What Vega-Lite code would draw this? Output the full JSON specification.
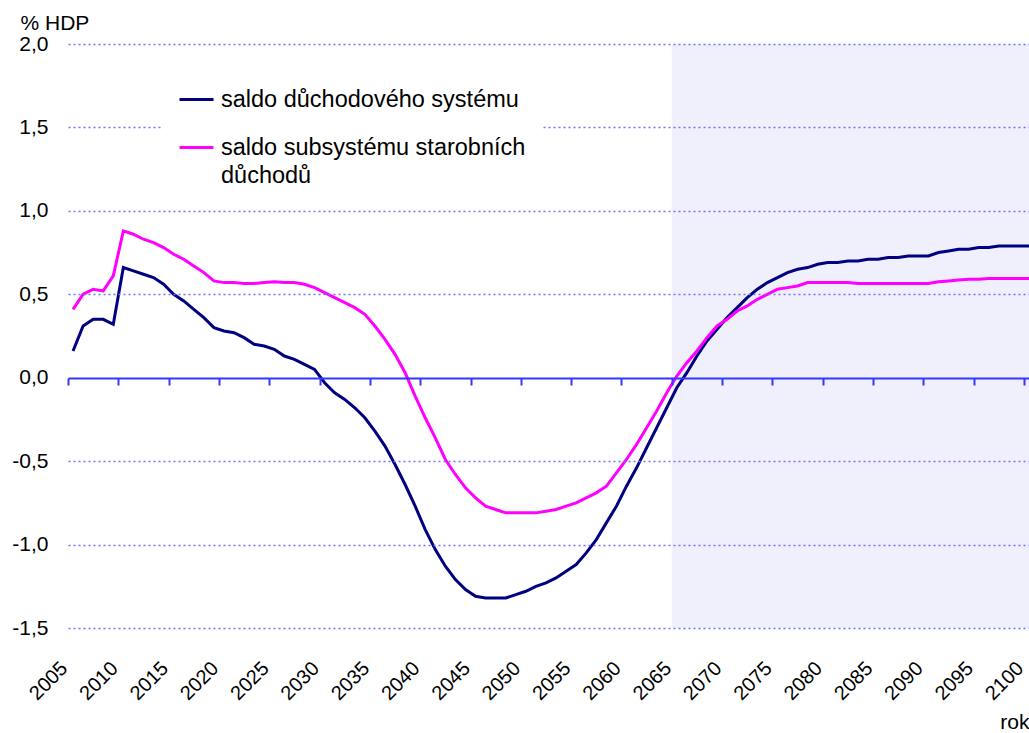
{
  "$schema": "https://vega.github.io/schema/vega-lite/v6.json",
  "width": 961,
  "height": 584,
  "autosize": {"type": "none"},
  "padding": {"left": 68, "top": 44, "right": 0, "bottom": 105},
  "background": "white",
  "config": {
    "font": "Liberation Sans",
    "view": {"stroke": null}
  },
  "datasets": {
    "shade": [{"from": 2064.5, "to": 2100}],
    "series": [
      {"year": 2005, "s": "saldo důchodového systému", "v": 0.16},
      {"year": 2006, "s": "saldo důchodového systému", "v": 0.31},
      {"year": 2007, "s": "saldo důchodového systému", "v": 0.35},
      {"year": 2008, "s": "saldo důchodového systému", "v": 0.35},
      {"year": 2009, "s": "saldo důchodového systému", "v": 0.32},
      {"year": 2010, "s": "saldo důchodového systému", "v": 0.66},
      {"year": 2011, "s": "saldo důchodového systému", "v": 0.64},
      {"year": 2012, "s": "saldo důchodového systému", "v": 0.62},
      {"year": 2013, "s": "saldo důchodového systému", "v": 0.60},
      {"year": 2014, "s": "saldo důchodového systému", "v": 0.56},
      {"year": 2015, "s": "saldo důchodového systému", "v": 0.50},
      {"year": 2016, "s": "saldo důchodového systému", "v": 0.46},
      {"year": 2017, "s": "saldo důchodového systému", "v": 0.41},
      {"year": 2018, "s": "saldo důchodového systému", "v": 0.36},
      {"year": 2019, "s": "saldo důchodového systému", "v": 0.30},
      {"year": 2020, "s": "saldo důchodového systému", "v": 0.28},
      {"year": 2021, "s": "saldo důchodového systému", "v": 0.27},
      {"year": 2022, "s": "saldo důchodového systému", "v": 0.24},
      {"year": 2023, "s": "saldo důchodového systému", "v": 0.20},
      {"year": 2024, "s": "saldo důchodového systému", "v": 0.19},
      {"year": 2025, "s": "saldo důchodového systému", "v": 0.17},
      {"year": 2026, "s": "saldo důchodového systému", "v": 0.13},
      {"year": 2027, "s": "saldo důchodového systému", "v": 0.11},
      {"year": 2028, "s": "saldo důchodového systému", "v": 0.08},
      {"year": 2029, "s": "saldo důchodového systému", "v": 0.05},
      {"year": 2030, "s": "saldo důchodového systému", "v": -0.03},
      {"year": 2031, "s": "saldo důchodového systému", "v": -0.09},
      {"year": 2032, "s": "saldo důchodového systému", "v": -0.13},
      {"year": 2033, "s": "saldo důchodového systému", "v": -0.18},
      {"year": 2034, "s": "saldo důchodového systému", "v": -0.24},
      {"year": 2035, "s": "saldo důchodového systému", "v": -0.32},
      {"year": 2036, "s": "saldo důchodového systému", "v": -0.41},
      {"year": 2037, "s": "saldo důchodového systému", "v": -0.52},
      {"year": 2038, "s": "saldo důchodového systému", "v": -0.64},
      {"year": 2039, "s": "saldo důchodového systému", "v": -0.77},
      {"year": 2040, "s": "saldo důchodového systému", "v": -0.91},
      {"year": 2041, "s": "saldo důchodového systému", "v": -1.03},
      {"year": 2042, "s": "saldo důchodového systému", "v": -1.13},
      {"year": 2043, "s": "saldo důchodového systému", "v": -1.21},
      {"year": 2044, "s": "saldo důchodového systému", "v": -1.27},
      {"year": 2045, "s": "saldo důchodového systému", "v": -1.31},
      {"year": 2046, "s": "saldo důchodového systému", "v": -1.32},
      {"year": 2047, "s": "saldo důchodového systému", "v": -1.32},
      {"year": 2048, "s": "saldo důchodového systému", "v": -1.32},
      {"year": 2049, "s": "saldo důchodového systému", "v": -1.30},
      {"year": 2050, "s": "saldo důchodového systému", "v": -1.28},
      {"year": 2051, "s": "saldo důchodového systému", "v": -1.25},
      {"year": 2052, "s": "saldo důchodového systému", "v": -1.23},
      {"year": 2053, "s": "saldo důchodového systému", "v": -1.20},
      {"year": 2054, "s": "saldo důchodového systému", "v": -1.16},
      {"year": 2055, "s": "saldo důchodového systému", "v": -1.12},
      {"year": 2056, "s": "saldo důchodového systému", "v": -1.05},
      {"year": 2057, "s": "saldo důchodového systému", "v": -0.97},
      {"year": 2058, "s": "saldo důchodového systému", "v": -0.87},
      {"year": 2059, "s": "saldo důchodového systému", "v": -0.77},
      {"year": 2060, "s": "saldo důchodového systému", "v": -0.65},
      {"year": 2061, "s": "saldo důchodového systému", "v": -0.54},
      {"year": 2062, "s": "saldo důchodového systému", "v": -0.42},
      {"year": 2063, "s": "saldo důchodového systému", "v": -0.30},
      {"year": 2064, "s": "saldo důchodového systému", "v": -0.18},
      {"year": 2065, "s": "saldo důchodového systému", "v": -0.06},
      {"year": 2066, "s": "saldo důchodového systému", "v": 0.03},
      {"year": 2067, "s": "saldo důchodového systému", "v": 0.13},
      {"year": 2068, "s": "saldo důchodového systému", "v": 0.22},
      {"year": 2069, "s": "saldo důchodového systému", "v": 0.29},
      {"year": 2070, "s": "saldo důchodového systému", "v": 0.36},
      {"year": 2071, "s": "saldo důchodového systému", "v": 0.42},
      {"year": 2072, "s": "saldo důchodového systému", "v": 0.48},
      {"year": 2073, "s": "saldo důchodového systému", "v": 0.53},
      {"year": 2074, "s": "saldo důchodového systému", "v": 0.57},
      {"year": 2075, "s": "saldo důchodového systému", "v": 0.60},
      {"year": 2076, "s": "saldo důchodového systému", "v": 0.63},
      {"year": 2077, "s": "saldo důchodového systému", "v": 0.65},
      {"year": 2078, "s": "saldo důchodového systému", "v": 0.66},
      {"year": 2079, "s": "saldo důchodového systému", "v": 0.68},
      {"year": 2080, "s": "saldo důchodového systému", "v": 0.69},
      {"year": 2081, "s": "saldo důchodového systému", "v": 0.69},
      {"year": 2082, "s": "saldo důchodového systému", "v": 0.70},
      {"year": 2083, "s": "saldo důchodového systému", "v": 0.70},
      {"year": 2084, "s": "saldo důchodového systému", "v": 0.71},
      {"year": 2085, "s": "saldo důchodového systému", "v": 0.71},
      {"year": 2086, "s": "saldo důchodového systému", "v": 0.72},
      {"year": 2087, "s": "saldo důchodového systému", "v": 0.72},
      {"year": 2088, "s": "saldo důchodového systému", "v": 0.73},
      {"year": 2089, "s": "saldo důchodového systému", "v": 0.73},
      {"year": 2090, "s": "saldo důchodového systému", "v": 0.73},
      {"year": 2091, "s": "saldo důchodového systému", "v": 0.75},
      {"year": 2092, "s": "saldo důchodového systému", "v": 0.76},
      {"year": 2093, "s": "saldo důchodového systému", "v": 0.77},
      {"year": 2094, "s": "saldo důchodového systému", "v": 0.77},
      {"year": 2095, "s": "saldo důchodového systému", "v": 0.78},
      {"year": 2096, "s": "saldo důchodového systému", "v": 0.78},
      {"year": 2097, "s": "saldo důchodového systému", "v": 0.79},
      {"year": 2098, "s": "saldo důchodového systému", "v": 0.79},
      {"year": 2099, "s": "saldo důchodového systému", "v": 0.79},
      {"year": 2100, "s": "saldo důchodového systému", "v": 0.79},
      {"year": 2005, "s": "saldo subsystému starobních důchodů", "v": 0.41},
      {"year": 2006, "s": "saldo subsystému starobních důchodů", "v": 0.50},
      {"year": 2007, "s": "saldo subsystému starobních důchodů", "v": 0.53},
      {"year": 2008, "s": "saldo subsystému starobních důchodů", "v": 0.52},
      {"year": 2009, "s": "saldo subsystému starobních důchodů", "v": 0.61},
      {"year": 2010, "s": "saldo subsystému starobních důchodů", "v": 0.88},
      {"year": 2011, "s": "saldo subsystému starobních důchodů", "v": 0.86},
      {"year": 2012, "s": "saldo subsystému starobních důchodů", "v": 0.83},
      {"year": 2013, "s": "saldo subsystému starobních důchodů", "v": 0.81},
      {"year": 2014, "s": "saldo subsystému starobních důchodů", "v": 0.78},
      {"year": 2015, "s": "saldo subsystému starobních důchodů", "v": 0.74},
      {"year": 2016, "s": "saldo subsystému starobních důchodů", "v": 0.71},
      {"year": 2017, "s": "saldo subsystému starobních důchodů", "v": 0.67},
      {"year": 2018, "s": "saldo subsystému starobních důchodů", "v": 0.63},
      {"year": 2019, "s": "saldo subsystému starobních důchodů", "v": 0.58},
      {"year": 2020, "s": "saldo subsystému starobních důchodů", "v": 0.57},
      {"year": 2021, "s": "saldo subsystému starobních důchodů", "v": 0.57},
      {"year": 2022, "s": "saldo subsystému starobních důchodů", "v": 0.565},
      {"year": 2023, "s": "saldo subsystému starobních důchodů", "v": 0.565},
      {"year": 2024, "s": "saldo subsystému starobních důchodů", "v": 0.57},
      {"year": 2025, "s": "saldo subsystému starobních důchodů", "v": 0.575},
      {"year": 2026, "s": "saldo subsystému starobních důchodů", "v": 0.57},
      {"year": 2027, "s": "saldo subsystému starobních důchodů", "v": 0.57},
      {"year": 2028, "s": "saldo subsystému starobních důchodů", "v": 0.56},
      {"year": 2029, "s": "saldo subsystému starobních důchodů", "v": 0.54},
      {"year": 2030, "s": "saldo subsystému starobních důchodů", "v": 0.51},
      {"year": 2031, "s": "saldo subsystému starobních důchodů", "v": 0.48},
      {"year": 2032, "s": "saldo subsystému starobních důchodů", "v": 0.45},
      {"year": 2033, "s": "saldo subsystému starobních důchodů", "v": 0.42},
      {"year": 2034, "s": "saldo subsystému starobních důchodů", "v": 0.38},
      {"year": 2035, "s": "saldo subsystému starobních důchodů", "v": 0.31},
      {"year": 2036, "s": "saldo subsystému starobních důchodů", "v": 0.23},
      {"year": 2037, "s": "saldo subsystému starobních důchodů", "v": 0.14},
      {"year": 2038, "s": "saldo subsystému starobních důchodů", "v": 0.03},
      {"year": 2039, "s": "saldo subsystému starobních důchodů", "v": -0.11},
      {"year": 2040, "s": "saldo subsystému starobních důchodů", "v": -0.24},
      {"year": 2041, "s": "saldo subsystému starobních důchodů", "v": -0.36},
      {"year": 2042, "s": "saldo subsystému starobních důchodů", "v": -0.49},
      {"year": 2043, "s": "saldo subsystému starobních důchodů", "v": -0.58},
      {"year": 2044, "s": "saldo subsystému starobních důchodů", "v": -0.66},
      {"year": 2045, "s": "saldo subsystému starobních důchodů", "v": -0.72},
      {"year": 2046, "s": "saldo subsystému starobních důchodů", "v": -0.77},
      {"year": 2047, "s": "saldo subsystému starobních důchodů", "v": -0.79},
      {"year": 2048, "s": "saldo subsystému starobních důchodů", "v": -0.81},
      {"year": 2049, "s": "saldo subsystému starobních důchodů", "v": -0.81},
      {"year": 2050, "s": "saldo subsystému starobních důchodů", "v": -0.81},
      {"year": 2051, "s": "saldo subsystému starobních důchodů", "v": -0.81},
      {"year": 2052, "s": "saldo subsystému starobních důchodů", "v": -0.80},
      {"year": 2053, "s": "saldo subsystému starobních důchodů", "v": -0.79},
      {"year": 2054, "s": "saldo subsystému starobních důchodů", "v": -0.77},
      {"year": 2055, "s": "saldo subsystému starobních důchodů", "v": -0.75},
      {"year": 2056, "s": "saldo subsystému starobních důchodů", "v": -0.72},
      {"year": 2057, "s": "saldo subsystému starobních důchodů", "v": -0.69},
      {"year": 2058, "s": "saldo subsystému starobních důchodů", "v": -0.65},
      {"year": 2059, "s": "saldo subsystému starobních důchodů", "v": -0.57},
      {"year": 2060, "s": "saldo subsystému starobních důchodů", "v": -0.49},
      {"year": 2061, "s": "saldo subsystému starobních důchodů", "v": -0.40},
      {"year": 2062, "s": "saldo subsystému starobních důchodů", "v": -0.30},
      {"year": 2063, "s": "saldo subsystému starobních důchodů", "v": -0.20},
      {"year": 2064, "s": "saldo subsystému starobních důchodů", "v": -0.09},
      {"year": 2065, "s": "saldo subsystému starobních důchodů", "v": 0.01},
      {"year": 2066, "s": "saldo subsystému starobních důchodů", "v": 0.09},
      {"year": 2067, "s": "saldo subsystému starobních důchodů", "v": 0.16},
      {"year": 2068, "s": "saldo subsystému starobních důchodů", "v": 0.24},
      {"year": 2069, "s": "saldo subsystému starobních důchodů", "v": 0.31},
      {"year": 2070, "s": "saldo subsystému starobních důchodů", "v": 0.35},
      {"year": 2071, "s": "saldo subsystému starobních důchodů", "v": 0.40},
      {"year": 2072, "s": "saldo subsystému starobních důchodů", "v": 0.43},
      {"year": 2073, "s": "saldo subsystému starobních důchodů", "v": 0.47},
      {"year": 2074, "s": "saldo subsystému starobních důchodů", "v": 0.50},
      {"year": 2075, "s": "saldo subsystému starobních důchodů", "v": 0.53},
      {"year": 2076, "s": "saldo subsystému starobních důchodů", "v": 0.54},
      {"year": 2077, "s": "saldo subsystému starobních důchodů", "v": 0.55},
      {"year": 2078, "s": "saldo subsystému starobních důchodů", "v": 0.57},
      {"year": 2079, "s": "saldo subsystému starobních důchodů", "v": 0.57},
      {"year": 2080, "s": "saldo subsystému starobních důchodů", "v": 0.57},
      {"year": 2081, "s": "saldo subsystému starobních důchodů", "v": 0.57},
      {"year": 2082, "s": "saldo subsystému starobních důchodů", "v": 0.57},
      {"year": 2083, "s": "saldo subsystému starobních důchodů", "v": 0.565},
      {"year": 2084, "s": "saldo subsystému starobních důchodů", "v": 0.565},
      {"year": 2085, "s": "saldo subsystému starobních důchodů", "v": 0.565},
      {"year": 2086, "s": "saldo subsystému starobních důchodů", "v": 0.565},
      {"year": 2087, "s": "saldo subsystému starobních důchodů", "v": 0.565},
      {"year": 2088, "s": "saldo subsystému starobních důchodů", "v": 0.565},
      {"year": 2089, "s": "saldo subsystému starobních důchodů", "v": 0.565},
      {"year": 2090, "s": "saldo subsystému starobních důchodů", "v": 0.565},
      {"year": 2091, "s": "saldo subsystému starobních důchodů", "v": 0.575},
      {"year": 2092, "s": "saldo subsystému starobních důchodů", "v": 0.58},
      {"year": 2093, "s": "saldo subsystému starobních důchodů", "v": 0.585},
      {"year": 2094, "s": "saldo subsystému starobních důchodů", "v": 0.59},
      {"year": 2095, "s": "saldo subsystému starobních důchodů", "v": 0.59},
      {"year": 2096, "s": "saldo subsystému starobních důchodů", "v": 0.595},
      {"year": 2097, "s": "saldo subsystému starobních důchodů", "v": 0.595},
      {"year": 2098, "s": "saldo subsystému starobních důchodů", "v": 0.595},
      {"year": 2099, "s": "saldo subsystému starobních důchodů", "v": 0.595},
      {"year": 2100, "s": "saldo subsystému starobních důchodů", "v": 0.595}
    ]
  },
  "layer": [
    {
      "data": {"name": "shade"},
      "mark": {"type": "rect", "color": "#f0f0fc"},
      "encoding": {
        "x": {"field": "from", "type": "quantitative"},
        "x2": {"field": "to"}
      }
    },
    {
      "data": {"name": "series"},
      "mark": {"type": "line", "strokeWidth": 3},
      "encoding": {
        "x": {
          "field": "year",
          "type": "quantitative",
          "scale": {"domain": [2004.5, 2100], "nice": false, "zero": false},
          "axis": {
            "orient": "bottom",
            "offset": -250,
            "values": [2004.5, 2009.5, 2014.5, 2019.5, 2024.5, 2029.5, 2034.5, 2039.5, 2044.5, 2049.5, 2054.5, 2059.5, 2064.5, 2069.5, 2074.5, 2079.5, 2084.5, 2089.5, 2094.5, 2099.5],
            "labelExpr": "format(datum.value + 0.5, 'd')",
            "labelAngle": -45,
            "labelAlign": "right",
            "labelBaseline": "middle",
            "labelPadding": 280,
            "labelOffset": -4,
            "labelFontSize": 20,
            "labelColor": "black",
            "labelOverlap": false,
            "labelFlush": false,
            "grid": false,
            "domainColor": "#3535ff",
            "domainWidth": 2,
            "tickColor": "#3535ff",
            "tickWidth": 2,
            "tickSize": 7,
            "zindex": 1,
            "title": "rok",
            "titleFontSize": 21,
            "titleFontWeight": "normal",
            "titleColor": "black",
            "titleX": 961,
            "titleY": 350,
            "titleAlign": "right",
            "titleBaseline": "alphabetic"
          }
        },
        "y": {
          "field": "v",
          "type": "quantitative",
          "scale": {"domain": [-1.5, 2], "nice": false, "zero": false},
          "axis": {
            "values": [-1.5, -1, -0.5, 0, 0.5, 1, 1.5, 2],
            "labelExpr": "replace(replace(format(datum.value, '.1f'), '.', ','), '−', '-')",
            "labelFontSize": 21,
            "labelColor": "black",
            "labelPadding": 20,
            "domain": false,
            "ticks": false,
            "grid": true,
            "gridColor": "#7272ff",
            "gridDash": [2, 3],
            "gridWidth": 1.5,
            "gridOpacity": {"condition": {"test": "datum.value === 0", "value": 0}, "value": 1},
            "zindex": 1,
            "title": "% HDP",
            "titleAngle": 0,
            "titleFontSize": 21,
            "titleFontWeight": "normal",
            "titleColor": "black",
            "titleX": -48,
            "titleY": -15,
            "titleAlign": "left",
            "titleBaseline": "alphabetic"
          }
        },
        "color": {
          "field": "s",
          "type": "nominal",
          "scale": {
            "domain": ["saldo důchodového systému", "saldo subsystému starobních důchodů"],
            "range": ["#000080", "#ff00ff"]
          },
          "legend": {
            "title": null,
            "orient": "none",
            "legendX": 94,
            "legendY": 21,
            "fillColor": "white",
            "padding": 16,
            "symbolType": "stroke",
            "symbolSize": 1156,
            "symbolStrokeWidth": 3,
            "labelFontSize": 23.5,
            "labelColor": "black",
            "labelOffset": 6,
            "labelLimit": 500,
            "rowPadding": 18,
            "zindex": 2,
            "labelExpr": "datum.label == 'saldo subsystému starobních důchodů' ? ['saldo subsystému starobních', 'důchodů'] : datum.label",
            "encode": {"labels": {"update": {"lineHeight": {"value": 28}}}}
          }
        }
      }
    }
  ]
}
